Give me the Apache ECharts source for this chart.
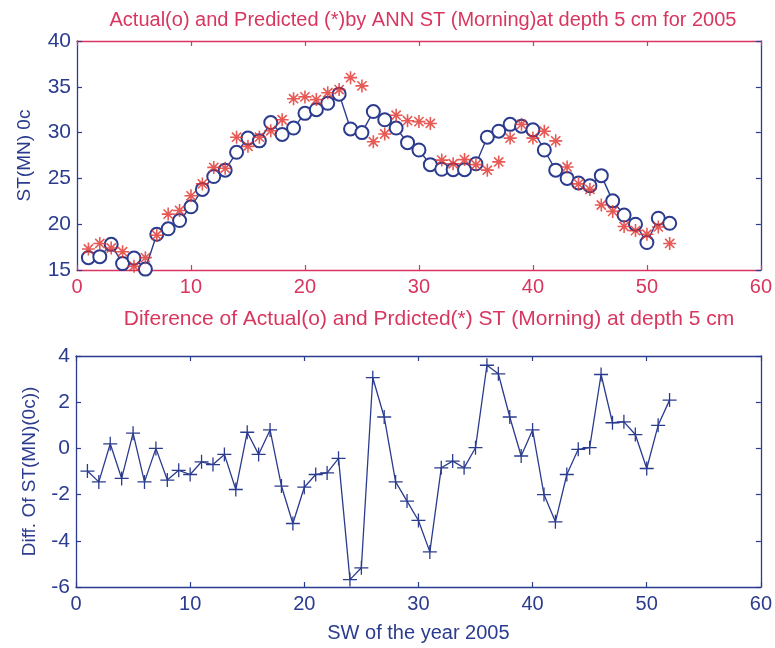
<!DOCTYPE html>
<html>
<head>
<meta charset="utf-8">
<script src="https://cdn.jsdelivr.net/npm/echarts@6/dist/echarts.min.js"></script>
<style>html,body{margin:0;padding:0;background:#fff}#c{width:775px;height:648px}</style>
</head>
<body>
<div id="c"></div>
<script>
const weeks = [1,2,3,4,5,6,7,8,9,10,11,12,13,14,15,16,17,18,19,20,21,22,23,24,25,26,27,28,29,30,31,32,33,34,35,36,37,38,39,40,41,42,43,44,45,46,47,48,49,50,51,52];
const actual = [16.35,16.46,17.8,15.7,16.3,15.1,18.9,19.5,20.4,21.9,23.8,25.2,25.9,27.85,29.4,29.1,31.1,29.8,30.5,32.1,32.5,33.2,34.2,30.4,30.0,32.3,31.4,30.5,28.9,28.1,26.5,26.0,25.95,25.95,26.6,29.5,30.15,30.9,30.7,30.3,28.1,25.9,25.0,24.5,24.2,25.3,22.55,21.0,20.0,18.0,20.65,20.1];
const predicted = [17.3,17.9,17.4,17.0,15.4,16.35,18.8,21.1,21.5,23.1,24.4,26.2,26.1,29.5,28.5,29.5,30.2,31.4,33.7,33.9,33.6,34.35,34.7,36.0,35.1,29.0,29.85,31.9,31.3,31.2,31.0,27.0,26.6,27.05,26.5,25.9,26.8,29.4,30.9,29.4,30.15,29.1,26.25,24.4,23.8,22.1,21.4,19.75,19.3,18.9,19.7,17.9];
const difference = [-0.98,-1.45,0.2,-1.3,0.66,-1.45,0.0,-1.37,-0.95,-1.13,-0.58,-0.7,-0.26,-1.78,0.7,-0.26,0.8,-1.63,-3.25,-1.68,-1.13,-1.06,-0.43,-5.68,-5.17,3.06,1.36,-1.45,-2.28,-3.12,-4.48,-0.84,-0.55,-0.84,0.03,3.6,3.23,1.36,-0.33,0.8,-2.0,-3.18,-1.13,-0.04,0.03,3.2,1.11,1.15,0.6,-0.87,1.0,2.09];

const titleTop = 'Actual(o) and Predicted (*)by ANN ST (Morning)at depth 5 cm for 2005';
const titleBottom = 'Diference of Actual(o) and Prdicted(*) ST (Morning) at depth 5 cm';
const yNameTop = 'ST(MN) 0c';
const yNameBottom = 'Diff. Of ST(MN)(0c))';
const xNameBottom = 'SW of the year 2005';

const RED = '#d8365f';
const BLUE = '#2b3b8e';
const FONT = 'Liberation Sans, Arial, sans-serif';
const FS = 20;

function pair(xs, ys){ return xs.map((x,i)=>[x, ys[i]]); }

function xAx(grid, color, pos, show, name){
  return {
    type:'value', gridIndex:grid, position:pos, min:0, max:60, interval:10,
    axisLine:{show:true, onZero:false, lineStyle:{color:color, width:1.3}},
    axisTick:{show:true, inside:true, length:5, lineStyle:{color:color, width:1.2}},
    axisLabel:{show:show, color:color, fontSize:FS, fontFamily:FONT, margin:7},
    splitLine:{show:false},
    name: name || '', nameLocation:'middle', nameGap:36,
    nameTextStyle:{color:BLUE, fontSize:FS, fontFamily:FONT}
  };
}
function yAx(grid, color, pos, show, min, max, interval, name, gap){
  return {
    type:'value', gridIndex:grid, position:pos, min:min, max:max, interval:interval,
    axisLine:{show:true, onZero:false, lineStyle:{color:color, width:1.3}},
    axisTick:{show:true, inside:true, length:5, lineStyle:{color:color, width:1.2}},
    axisLabel:{show:show, color:color, fontSize:FS+1, fontFamily:FONT, margin:6},
    splitLine:{show:false},
    name: name || '', nameLocation:'middle', nameGap:gap || 40, nameRotate:90,
    nameTextStyle:{color:BLUE, fontSize:FS-1, fontFamily:FONT}
  };
}

const starPath = 'path://M0,-10L0,10M-10,0L10,0M-7.07,-7.07L7.07,7.07M-7.07,7.07L7.07,-7.07';
const plusPath = 'path://M0,-10L0,10M-10,0L10,0';

const chart = echarts.init(document.getElementById('c'), null, {renderer:'canvas'});
chart.setOption({
  animation:false,
  backgroundColor:'#fff',
  title:[
    {text:titleTop, left:418, top:5, textAlign:'center', textStyle:{color:RED, fontSize:20, fontWeight:'normal', fontFamily:FONT}},
    {text:titleBottom, left:424, top:304, textAlign:'center', textStyle:{color:RED, fontSize:21, fontWeight:'normal', fontFamily:FONT}}
  ],
  grid:[
    {left:77, top:41, width:686, height:229},
    {left:76, top:356, width:687, height:231}
  ],
  xAxis:[
    xAx(0, RED, 'bottom', true),
    xAx(0, RED, 'top', false),
    xAx(1, BLUE, 'bottom', true, xNameBottom),
    xAx(1, BLUE, 'top', false)
  ],
  yAxis:[
    yAx(0, BLUE, 'left', true, 15, 40, 5, yNameTop, 43),
    yAx(0, BLUE, 'right', false, 15, 40, 5),
    yAx(1, BLUE, 'left', true, -6, 4, 2, yNameBottom, 37),
    yAx(1, BLUE, 'right', false, -6, 4, 2)
  ],
  series:[
    {
      type:'line', xAxisIndex:0, yAxisIndex:0, data:pair(weeks, actual),
      symbol:'emptyCircle', symbolSize:13,
      itemStyle:{color:BLUE, borderColor:BLUE, borderWidth:1.5},
      lineStyle:{color:BLUE, width:1.4}, z:2
    },
    {
      type:'scatter', xAxisIndex:0, yAxisIndex:0, data:pair(weeks, predicted),
      symbol:starPath, symbolSize:13,
      itemStyle:{color:RED, borderColor:'#e0302a', borderWidth:1.6}, z:3
    },
    {
      type:'line', xAxisIndex:2, yAxisIndex:2, data:pair(weeks, difference),
      symbol:plusPath, symbolSize:14,
      itemStyle:{color:BLUE, borderColor:BLUE, borderWidth:1.3},
      lineStyle:{color:BLUE, width:1.3}, z:2
    }
  ]
});
</script>
</body>
</html>
